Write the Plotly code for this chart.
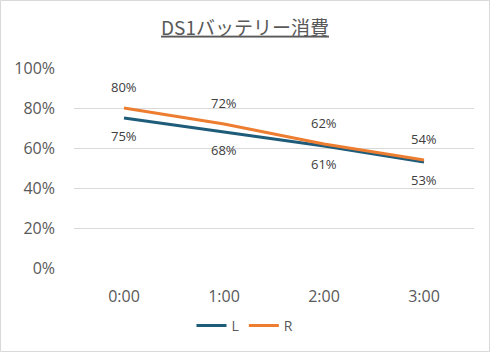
import plotly.graph_objects as go

categories = ["0:00", "1:00", "2:00", "3:00"]
L_values = [0.75, 0.68, 0.61, 0.53]
R_values = [0.80, 0.72, 0.62, 0.54]
y_ticks = [0, 0.2, 0.4, 0.6, 0.8, 1.0]
y_tick_labels = ["0%", "20%", "40%", "60%", "80%", "100%"]

FONT = "Open Sans, Noto Sans CJK JP"
fig = go.Figure()
fig.add_trace(go.Scatter(
    x=categories, y=L_values, name="L", mode="lines",
    line=dict(color="#1F5C7A", width=3),
))
fig.add_trace(go.Scatter(
    x=categories, y=R_values, name="R", mode="lines",
    line=dict(color="#ED7D31", width=3),
))
for c, v in zip(categories, L_values):
    fig.add_annotation(x=c, y=v, text=f"{round(v*100)}%", showarrow=False,
                       yshift=-18, font=dict(size=13, color="#404040", family=FONT))
for c, v in zip(categories, R_values):
    fig.add_annotation(x=c, y=v, text=f"{round(v*100)}%", showarrow=False,
                       yshift=21, font=dict(size=13, color="#404040", family=FONT))

W, H = 490, 352
ml, mr, mt, mb = 74, 16, 68, 84
pw, ph = W - ml - mr, H - mt - mb
fig.add_shape(type="rect", xref="paper", yref="paper",
              x0=(0.5 - ml) / pw, x1=(W - 0.5 - ml) / pw,
              y0=(H - mb - (H - 0.5)) / ph, y1=(H - mb - 0.5) / ph,
              line=dict(color="#d9d9d9", width=1), layer="below")

fig.update_layout(
    width=W, height=H,
    margin=dict(l=ml, r=mr, t=mt, b=mb, autoexpand=False),
    paper_bgcolor="white", plot_bgcolor="white",
    font=dict(family=FONT, color="#595959"),
    title=dict(text="<u>DS1バッテリー消費</u>", x=0.5, xref="container", xanchor="center",
               y=(H - 28) / H, yanchor="middle", yref="container",
               font=dict(size=19, color="#595959", family="Noto Sans CJK JP")),
    showlegend=True,
    legend=dict(orientation="h", x=0.5, xanchor="center", xref="container",
                y=(H - 326) / H, yref="container", yanchor="middle",
                font=dict(size=14, color="#595959", family=FONT),
                itemwidth=30),
)
fig.update_xaxes(type="category", range=[-0.5, 3.5], showgrid=False, zeroline=False,
                 showline=False, ticks="", tickfont=dict(size=16, color="#595959"),
                 ticklabelstandoff=17, automargin=False)
fig.update_yaxes(range=[0, 1.0], tickvals=y_ticks, ticktext=y_tick_labels,
                 showgrid=True, gridcolor="#d9d9d9", gridwidth=1, zeroline=False,
                 showline=False, ticks="", tickfont=dict(size=16, color="#595959"),
                 ticklabelstandoff=18, automargin=False)
fig.write_html("out.html")
